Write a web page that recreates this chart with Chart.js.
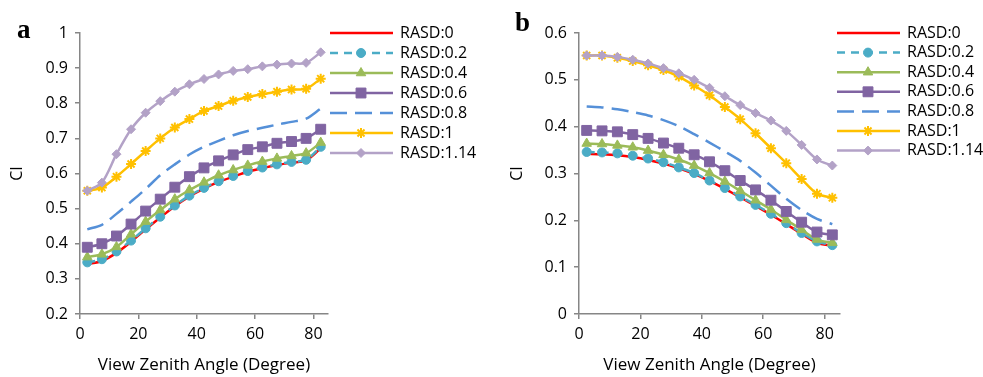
<!DOCTYPE html>
<html>
<head>
<meta charset="utf-8">
<script src="https://cdn.jsdelivr.net/npm/chart.js@4.4.1/dist/chart.umd.min.js"></script>
<style>
  body { margin: 0; background: #fff; width: 983px; height: 377px; overflow: hidden; position: relative; }
  .box { position: absolute; top: 0; height: 377px; }
  .tag { position: absolute; font: bold 27px "Liberation Serif", "Times New Roman", serif; line-height: 27px; color: #000; }
</style>
</head>
<body>
<div class="box" style="left:0;width:500px"><canvas id="chartA"></canvas></div>
<div class="box" style="left:500px;width:483px"><canvas id="chartB"></canvas></div>
<div class="tag" style="left:17px;top:16px">a</div>
<div class="tag" style="left:515px;top:9px">b</div>
<script>
// view zenith angles (degree)
const angles = [2.5, 7.5, 12.5, 17.5, 22.5, 27.5, 32.5, 37.5, 42.5, 47.5, 52.5, 57.5, 62.5, 67.5, 72.5, 77.5, 82.5];
const seriesLabels = ["RASD:0", "RASD:0.2", "RASD:0.4", "RASD:0.6", "RASD:0.8", "RASD:1", "RASD:1.14"];

// panel a
const ciA_00  = [0.342, 0.351, 0.374, 0.406, 0.441, 0.475, 0.507, 0.535, 0.557, 0.576, 0.591, 0.605, 0.615, 0.624, 0.631, 0.637, 0.672];
const ciA_02  = [0.347, 0.356, 0.378, 0.409, 0.444, 0.477, 0.509, 0.537, 0.559, 0.578, 0.593, 0.607, 0.617, 0.626, 0.633, 0.639, 0.676];
const ciA_04  = [0.362, 0.370, 0.391, 0.427, 0.463, 0.496, 0.527, 0.553, 0.575, 0.595, 0.610, 0.623, 0.634, 0.643, 0.650, 0.658, 0.688];
const ciA_06  = [0.390, 0.400, 0.422, 0.456, 0.493, 0.527, 0.561, 0.591, 0.616, 0.636, 0.653, 0.668, 0.676, 0.686, 0.691, 0.700, 0.726];
const ciA_08  = [0.441, 0.454, 0.485, 0.520, 0.556, 0.595, 0.626, 0.654, 0.676, 0.693, 0.709, 0.721, 0.730, 0.739, 0.747, 0.756, 0.785];
const ciA_10  = [0.551, 0.560, 0.591, 0.627, 0.664, 0.700, 0.731, 0.755, 0.778, 0.792, 0.807, 0.818, 0.826, 0.833, 0.839, 0.841, 0.870];
const ciA_114 = [0.551, 0.574, 0.655, 0.726, 0.773, 0.806, 0.833, 0.854, 0.869, 0.882, 0.892, 0.897, 0.905, 0.910, 0.913, 0.915, 0.945];

// panel b
const ciB_00  = [0.342, 0.341, 0.339, 0.335, 0.329, 0.321, 0.311, 0.299, 0.284, 0.267, 0.249, 0.231, 0.212, 0.192, 0.171, 0.152, 0.146];
const ciB_02  = [0.346, 0.345, 0.343, 0.338, 0.332, 0.324, 0.313, 0.301, 0.285, 0.269, 0.251, 0.233, 0.214, 0.194, 0.173, 0.155, 0.147];
const ciB_04  = [0.364, 0.363, 0.360, 0.356, 0.349, 0.340, 0.330, 0.317, 0.301, 0.283, 0.263, 0.243, 0.223, 0.201, 0.180, 0.159, 0.152];
const ciB_06  = [0.392, 0.391, 0.389, 0.383, 0.375, 0.365, 0.354, 0.340, 0.325, 0.306, 0.285, 0.265, 0.243, 0.219, 0.196, 0.175, 0.169];
const ciB_08  = [0.443, 0.441, 0.437, 0.431, 0.424, 0.414, 0.401, 0.384, 0.366, 0.347, 0.327, 0.302, 0.274, 0.246, 0.222, 0.203, 0.192];
const ciB_10  = [0.552, 0.552, 0.547, 0.540, 0.531, 0.521, 0.507, 0.488, 0.467, 0.442, 0.416, 0.386, 0.354, 0.322, 0.288, 0.257, 0.248];
const ciB_114 = [0.552, 0.552, 0.549, 0.543, 0.535, 0.525, 0.514, 0.500, 0.483, 0.465, 0.446, 0.429, 0.413, 0.391, 0.361, 0.330, 0.317];

// tick labels
const xTicks = [0, 20, 40, 60, 80];
const yTicksA = [0.2, 0.3, 0.4, 0.5, 0.6, 0.7, 0.8, 0.9, 1];
const yTicksB = [0, 0.1, 0.2, 0.3, 0.4, 0.5, 0.6];

const styles = [
  { color: "#FF0000", pointStyle: false, radius: 0, dash: [] },
  { color: "#4BACC6", pointStyle: "circle", radius: 4.5, dash: [8, 6] },
  { color: "#9BBB59", pointStyle: "triangle", radius: 5.5, dash: [] },
  { color: "#8064A2", pointStyle: "rect", radius: 7, dash: [] },
  { color: "#5590D8", pointStyle: false, radius: 0, dash: [17, 8] },
  { color: "#FFC000", pointStyle: "star", radius: 5, dash: [] },
  { color: "#B3A2C7", pointStyle: "rectRot", radius: 4.5, dash: [] }
];

function makeDatasets(seriesList) {
  return seriesList.map((vals, i) => {
    const s = styles[i];
    return {
      label: seriesLabels[i],
      data: angles.map((x, j) => ({ x, y: vals[j] })),
      borderColor: s.color,
      backgroundColor: s.color,
      pointBackgroundColor: s.color,
      pointBorderColor: s.color,
      borderWidth: 2.5,
      borderDash: s.dash,
      pointStyle: s.pointStyle || "circle",
      pointRadius: s.radius,
      pointBorderWidth: s.pointStyle === "star" ? 2 : 1,
      tension: 0.3,
      order: 6 - i
    };
  });
}

const sideLegend = {
  id: "sideLegend",
  afterDraw(chart, args, opts) {
    const ctx = chart.ctx;
    ctx.save();
    chart.data.datasets.forEach((ds, i) => {
      const y = opts.top + i * opts.step;
      ctx.strokeStyle = ds.borderColor;
      ctx.lineWidth = ds.borderWidth;
      ctx.setLineDash(ds.borderDash || []);
      ctx.beginPath();
      ctx.moveTo(opts.left, y);
      ctx.lineTo(opts.left + 63, y);
      ctx.stroke();
      ctx.setLineDash([]);
      if (ds.pointRadius > 0) {
        ctx.fillStyle = ds.pointBackgroundColor;
        ctx.lineWidth = ds.pointBorderWidth;
        Chart.helpers.drawPoint(ctx, { pointStyle: ds.pointStyle, radius: ds.pointRadius, rotation: 0, borderWidth: ds.pointBorderWidth }, opts.left + 31, y);
      }
      ctx.fillStyle = "#000";
      ctx.font = '16px "Open Sans"';
      ctx.textBaseline = "middle";
      ctx.fillText(ds.label, opts.left + 70, y);
    });
    ctx.restore();
  }
};

function makeChart(id, seriesList, yMin, yMax, yTicks, yWidth, padRight, legendLeft, legendStep) {
  const axisColor = "#868686";
  return new Chart(document.getElementById(id), {
    type: "line",
    data: { datasets: makeDatasets(seriesList) },
    plugins: [sideLegend],
    options: {
      responsive: true,
      maintainAspectRatio: false,
      animation: false,
      layout: { padding: { top: 33, right: padRight, bottom: 0, left: 0 } },
      plugins: {
        legend: { display: false },
        tooltip: { enabled: false },
        sideLegend: { left: legendLeft, top: 33, step: legendStep }
      },
      scales: {
        x: {
          type: "linear",
          min: 0,
          max: 85,
          afterBuildTicks: s => { s.ticks = xTicks.map(v => ({ value: v })); },
          afterFit: s => { s.height = 63; },
          grid: { drawOnChartArea: false, tickLength: 5, color: axisColor, lineWidth: 1.5 },
          border: { color: axisColor, width: 1.5 },
          ticks: { color: "#000", padding: 6, maxRotation: 0, font: { family: "Open Sans", size: 16 } },
          title: { display: true, text: "View Zenith Angle (Degree)", color: "#000", padding: { top: 0, bottom: 2 }, font: { family: "Open Sans", size: 17 } }
        },
        y: {
          min: yMin,
          max: yMax,
          afterBuildTicks: s => { s.ticks = yTicks.map(v => ({ value: v })); },
          afterFit: s => { s.width = yWidth; },
          grid: { drawOnChartArea: false, tickLength: 5, color: axisColor, lineWidth: 1.5 },
          border: { color: axisColor, width: 1.5 },
          ticks: { color: "#000", padding: 7, font: { family: "Open Sans", size: 16 }, callback: v => String(+v.toFixed(2)) },
          title: { display: true, text: "CI", color: "#000", padding: { top: 8, bottom: 0 }, font: { family: "Open Sans", size: 16 } }
        }
      }
    }
  });
}

makeChart("chartA", [ciA_00, ciA_02, ciA_04, ciA_06, ciA_08, ciA_10, ciA_114], 0.2, 1, yTicksA, 80, 172, 330, 20);
makeChart("chartB", [ciB_00, ciB_02, ciB_04, ciB_06, ciB_08, ciB_10, ciB_114], 0, 0.6, yTicksB, 79, 143, 337, 19.6);
</script>
</body>
</html>
